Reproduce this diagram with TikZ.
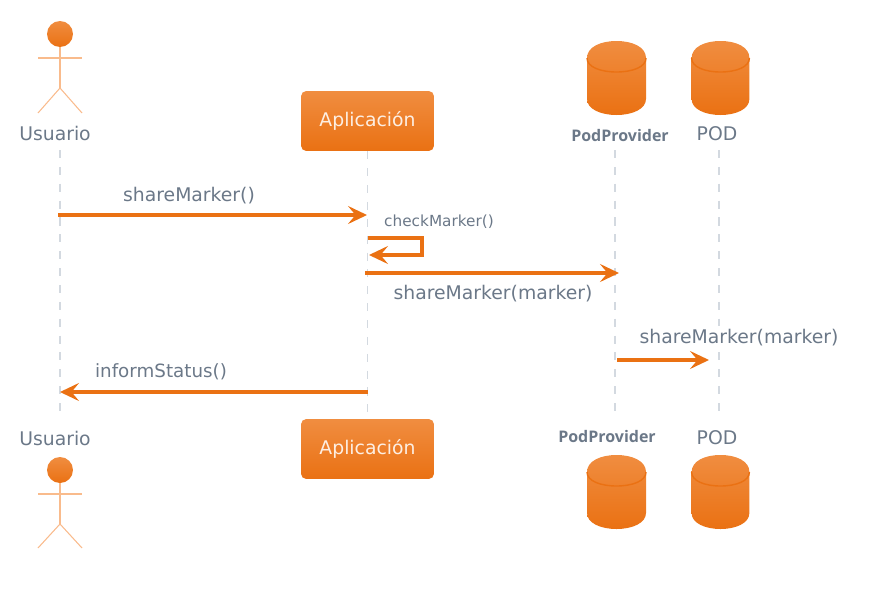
\documentclass[tikz,border=0pt]{standalone}
\usepackage{fontspec}
\setmainfont{DejaVu Sans}
\newfontfamily\podfont{Open Sans}
\usetikzlibrary{arrows.meta, positioning}

\definecolor{seqorange}{HTML}{EA7113}
\definecolor{seqlight}{HTML}{F08D40}
\definecolor{seqlimb}{HTML}{F9BB8C}
\definecolor{seqtext}{HTML}{6B7888}
\definecolor{seqdash}{HTML}{D3D9E0}

\tikzset{
	message/.style={draw=seqorange, line width=2.4pt, ->, line cap=butt},
	selfmessage/.style={message, line width=1.9pt, line join=miter},
	lifeline/.style={draw=seqdash, line width=.75pt, dash pattern=on 4.6pt off 5pt},
	limb/.style={draw=seqlimb, line width=.6pt},
	seqlabel/.style={text=seqtext, font=\fontsize{10.7pt}{12pt}\selectfont, inner sep=0pt},
	smalllabel/.style={text=seqtext, font=\fontsize{8.7pt}{10pt}\selectfont, inner sep=0pt},
	podlabel/.style={text=seqtext, font=\podfont\bfseries\fontsize{9.1pt}{10pt}\selectfont, inner sep=0pt},
	appbox/.style={rounded corners=3pt, top color=seqlight, bottom color=seqorange, draw=none, minimum width=2.66cm, minimum height=1.2cm, inner sep=0pt, text=white!85!seqlight, font=\fontsize{10.7pt}{12pt}\selectfont},
	actorhead/.style={circle, top color=seqlight, bottom color=seqorange, draw=none, minimum size=.52cm, inner sep=0pt},
	datastore/.pic={
		\path[top color=seqlight, bottom color=seqorange] (-29.5,17) .. controls (-29.5,6) and (-16,0) .. (0,0) .. controls (16,0) and (29.5,6) .. (29.5,17) -- (29.5,58) .. controls (29.5,68) and (16,74) .. (0,74) .. controls (-16,74) and (-29.5,68) .. (-29.5,58) -- cycle;
		\draw[seqorange, line width=.8pt] (-29.5,17) .. controls (-29.5,26) and (-16,31) .. (0,31) .. controls (16,31) and (29.5,26) .. (29.5,17);
	}
}

\begin{document}
\begin{tikzpicture}[x=.02cm, y=-.02cm, >={Stealth[length=.38cm, width=.36cm, inset=.15cm]}]
	\useasboundingbox (0,0) rectangle (883,592);

	% top row
	\node[actorhead] (headTop) at (60,34) {};
	\coordinate (hipTop) at (60,88); \coordinate (armLTop) at (38,58); \coordinate (armRTop) at (82,58); \coordinate (footLTop) at (38,113); \coordinate (footRTop) at (82,113);
	\draw[limb] (headTop.south) -- (hipTop); \draw[limb] (armLTop) -- (armRTop); \draw[limb] (footLTop) -- (hipTop) -- (footRTop);
	\node[seqlabel] (userTop) at (55,133) {Usuario};
	\node[appbox] (appTop) at (367.5,121) {Aplicación};
	\pic at (616.5,41) {datastore};
	\node[podlabel] (providerTop) at (620,136) {PodProvider};
	\pic[xscale=.98] at (720.5,41) {datastore};
	\node[seqlabel] (podTop) at (717,134) {POD};

	% bottom row
	\node[seqlabel] (userBot) at (55,438) {Usuario};
	\node[actorhead] (headBot) at (60,470) {};
	\coordinate (hipBot) at (60,524); \coordinate (armLBot) at (38,494); \coordinate (armRBot) at (82,494); \coordinate (footLBot) at (38,548); \coordinate (footRBot) at (82,548);
	\draw[limb] (headBot.south) -- (hipBot); \draw[limb] (armLBot) -- (armRBot); \draw[limb] (footLBot) -- (hipBot) -- (footRBot);
	\node[appbox] (appBot) at (367.5,449) {Aplicación};
	\node[podlabel] (providerBot) at (607,436) {PodProvider};
	\pic at (616.5,455) {datastore};
	\node[seqlabel] (podBot) at (717,438) {POD};
	\pic[xscale=.98] at (720.5,455) {datastore};

	% lifelines
	\coordinate (userStart) at (60,150); \coordinate (userEnd) at (60,418);
	\coordinate (providerStart) at (615,150); \coordinate (providerEnd) at (615,418);
	\coordinate (podStart) at (719,150); \coordinate (podEnd) at (719,418);
	\draw[lifeline] (userStart) -- (userEnd);
	\draw[lifeline] (appTop.south) -- (appBot.north);
	\draw[lifeline] (providerStart) -- (providerEnd);
	\draw[lifeline] (podStart) -- (podEnd);

	% messages
	\coordinate (m1a) at (58,215); \coordinate (m1b) at (367,215);
	\draw[message] (m1a) -- (m1b);
	\node[seqlabel] (m1) at (189,196) {shareMarker()};

	\coordinate (m2a) at (368,238); \coordinate (m2c) at (422,238); \coordinate (m2d) at (422,255); \coordinate (m2b) at (369,255);
	\draw[selfmessage] (m2a) -- (m2c) -- (m2d) -- (m2b);
	\node[smalllabel] (m2) at (439,222) {checkMarker()};

	\coordinate (m3a) at (365,273); \coordinate (m3b) at (619,273);
	\draw[message] (m3a) -- (m3b);
	\node[seqlabel] (m3) at (493,294) {shareMarker(marker)};

	\coordinate (m4a) at (617,360); \coordinate (m4b) at (709,360);
	\draw[message] (m4a) -- (m4b);
	\node[seqlabel, fill=white, inner sep=2pt] (m4) at (739,338) {shareMarker(marker)};

	\coordinate (m5a) at (368,392); \coordinate (m5b) at (60,392);
	\draw[message] (m5a) -- (m5b);
	\node[seqlabel, font=\fontsize{10.4pt}{12pt}\selectfont] (m5) at (161,372) {informStatus()};
\end{tikzpicture}
\end{document}
